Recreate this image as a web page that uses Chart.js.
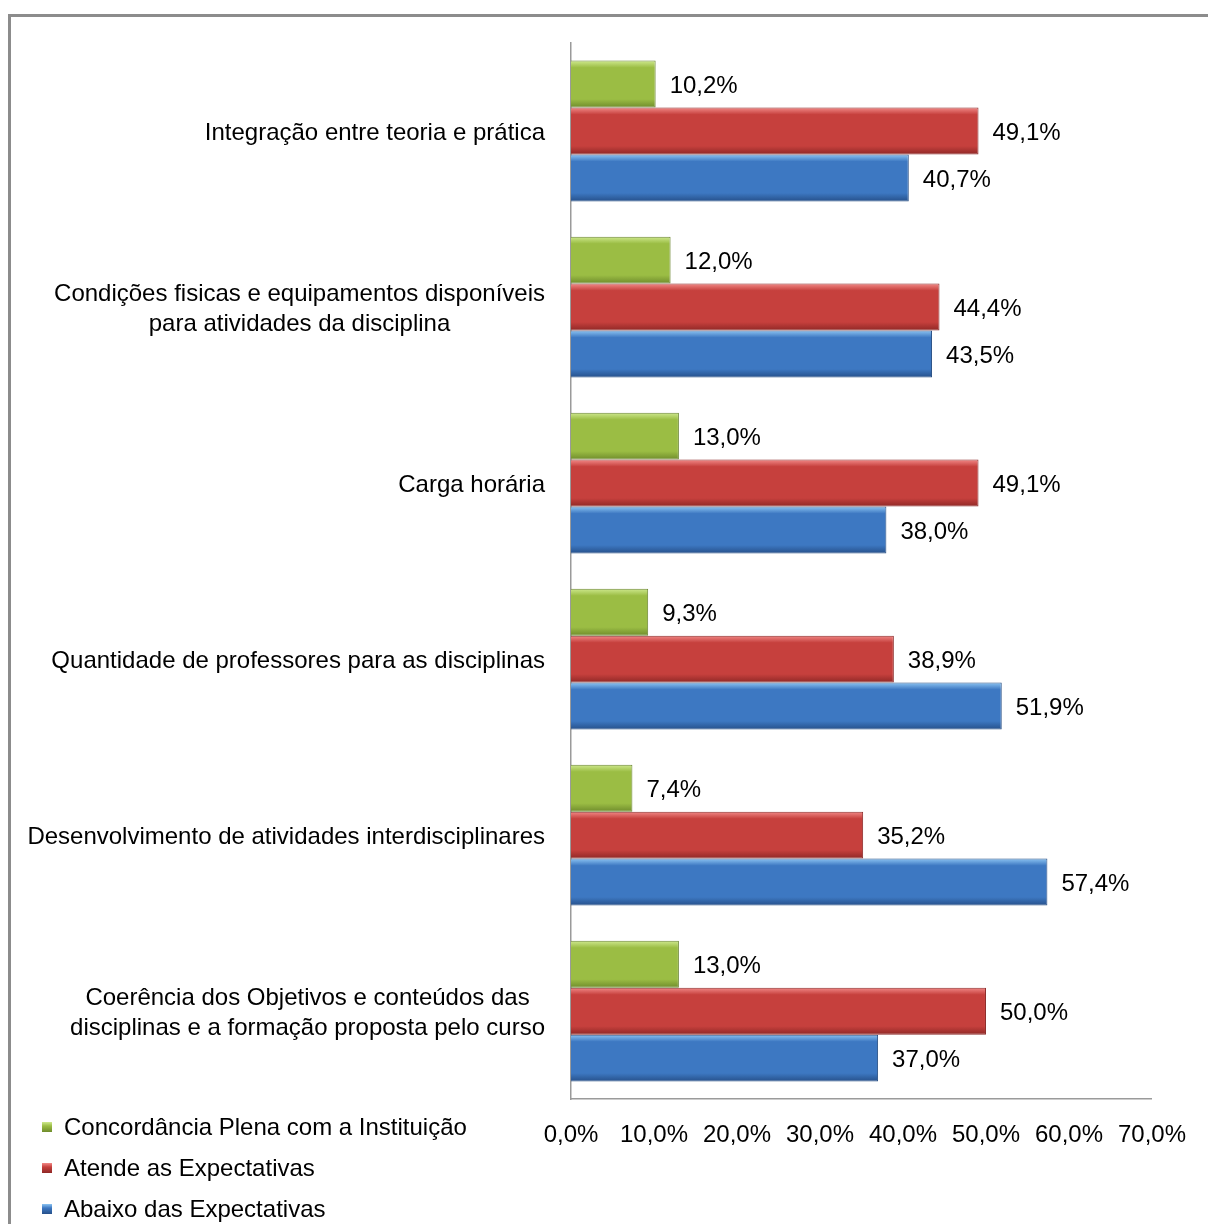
<!DOCTYPE html>
<html>
<head>
<meta charset="utf-8">
<script src="https://cdn.jsdelivr.net/npm/chart.js@4"></script>
<style>
	body { margin: 0; background: #fff; }
	#wrap { position: relative; width: 1208px; height: 1224px; overflow: hidden; }
	#frame { position: absolute; left: 8px; top: 14px; width: 1300px; height: 1300px; border-top: 3px solid #8c8c8c; border-left: 3px solid #8c8c8c; }
	#grafico { position: absolute; left: 0; top: 0; }
	#legenda { position: absolute; left: 42px; top: 1106px; font-family: "Liberation Sans", Arial, sans-serif; font-size: 24px; color: #000; }
	#legenda div { height: 41px; line-height: 41px; white-space: nowrap; }
	#legenda span { display: inline-block; width: 10px; height: 10px; margin-right: 12px; vertical-align: middle; position: relative; top: -2px; }
</style>
</head>
<body>
<div id="wrap">
	<div id="frame"></div>
	<canvas id="grafico" width="1208" height="1224"></canvas>
	<div id="legenda"></div>
</div>
<script>
// categorias (eixo vertical)
const categorias = [
	["Integração entre teoria e prática"],
	["Condições fisicas e equipamentos disponíveis", "para atividades da disciplina"],
	["Carga horária"],
	["Quantidade de professores para as disciplinas"],
	["Desenvolvimento de atividades interdisciplinares"],
	["Coerência dos Objetivos e conteúdos das", "disciplinas e a formação proposta pelo curso"]
];

// séries
const concordancia = [10.2, 12.0, 13.0, 9.3, 7.4, 13.0];
const atende = [49.1, 44.4, 49.1, 38.9, 35.2, 50.0];
const abaixo = [40.7, 43.5, 38.0, 51.9, 57.4, 37.0];

const nomesSeries = ["Concordância Plena com a Instituição", "Atende as Expectativas", "Abaixo das Expectativas"];

// eixo x
const ticksX = [0, 10, 20, 30, 40, 50, 60, 70];

const fonte = '"Liberation Sans", Arial, sans-serif';
const tamFonte = 24;
const catPct = 0.8;

const cores = [
	{ luz: "#cfe98f", meio: "#9bbd44", escuro: "#6f8c2c", borda: "#6a8530" },
	{ luz: "#f28a88", meio: "#c6403d", escuro: "#8f2826", borda: "#8c2a28" },
	{ luz: "#8cc4f2", meio: "#3d78c2", escuro: "#26508a", borda: "#284f84" }
];

function pct(v) {
	return v.toFixed(1).replace(".", ",") + "%";
}

// degradê vertical de cada barra
function gradiente(i) {
	return function(ctx) {
		const chart = ctx.chart;
		const y = chart.scales.y;
		if (!chart.chartArea || !y || ctx.type !== "data") return cores[i].meio;
		const banda = y.height / categorias.length;
		const alt = banda * catPct / 3;
		const topo = y.getPixelForValue(ctx.dataIndex) - banda * catPct / 2 + i * alt;
		const g = chart.ctx.createLinearGradient(0, topo, 0, topo + alt);
		g.addColorStop(0, cores[i].luz);
		g.addColorStop(0.15, cores[i].meio);
		g.addColorStop(0.82, cores[i].meio);
		g.addColorStop(1, cores[i].escuro);
		return g;
	};
}

// rótulos de valor à direita das barras
const rotulos = {
	id: "rotulos",
	afterDatasetsDraw(chart) {
		const c = chart.ctx;
		c.save();
		c.font = tamFonte + "px " + fonte;
		c.fillStyle = "#000";
		c.textAlign = "left";
		c.textBaseline = "middle";
		chart.data.datasets.forEach((ds, i) => {
			chart.getDatasetMeta(i).data.forEach((bar, j) => {
				c.fillText(pct(ds.data[j]), bar.x + 14, bar.y + 2);
			});
		});
		c.restore();
	}
};

// nomes das categorias, linhas centradas entre si
const nomesY = {
	id: "nomesY",
	afterDraw(chart) {
		const c = chart.ctx;
		const y = chart.scales.y;
		c.save();
		c.font = tamFonte + "px " + fonte;
		c.fillStyle = "#000";
		c.textAlign = "center";
		c.textBaseline = "middle";
		categorias.forEach((linhas, j) => {
			const larg = Math.max(...linhas.map((l) => c.measureText(l).width));
			const cx = chart.chartArea.left - 26 - larg / 2;
			const cy = y.getPixelForValue(j) + 2;
			linhas.forEach((l, k) => {
				c.fillText(l, cx, cy + (k - (linhas.length - 1) / 2) * 30);
			});
		});
		c.restore();
	}
};

const series = [concordancia, atende, abaixo];

const dados = {
	labels: categorias.map((l) => l.join(" ")),
	datasets: series.map((s, i) => ({
		label: nomesSeries[i],
		data: s,
		backgroundColor: gradiente(i),
		borderColor: cores[i].borda,
		borderWidth: 1,
		borderSkipped: "start",
		categoryPercentage: catPct,
		barPercentage: 1
	}))
};

const grafico = new Chart(document.getElementById("grafico"), {
	type: "bar",
	data: dados,
	options: {
		indexAxis: "y",
		responsive: false,
		animation: false,
		layout: {
			padding: { left: 571, top: 43, right: 45, bottom: 52 }
		},
		scales: {
			x: {
				min: 0,
				max: 70,
				afterBuildTicks: (s) => { s.ticks = ticksX.map((v) => ({ value: v })); },
				grid: { display: false, drawTicks: false },
				border: { color: "#9a9a9a", width: 1.5 },
				ticks: {
					padding: 22,
					color: "#000",
					font: { family: fonte, size: tamFonte },
					callback: (v) => pct(v),
					maxRotation: 0,
					autoSkip: false
				}
			},
			y: {
				grid: { display: false, drawTicks: false },
				border: { color: "#9a9a9a", width: 1.5 },
				ticks: { display: false },
				afterFit: (s) => { s.width = 0; }
			}
		},
		plugins: {
			legend: { display: false },
			tooltip: { enabled: false }
		}
	},
	plugins: [rotulos, nomesY]
});

// legenda em lista vertical
const leg = document.getElementById("legenda");
grafico.data.datasets.forEach((ds, i) => {
	const linha = document.createElement("div");
	const marca = document.createElement("span");
	marca.style.background = "linear-gradient(" + cores[i].luz + ", " + cores[i].meio + " 40%, " + cores[i].escuro + ")";
	linha.appendChild(marca);
	linha.appendChild(document.createTextNode(ds.label));
	leg.appendChild(linha);
});
</script>
</body>
</html>
